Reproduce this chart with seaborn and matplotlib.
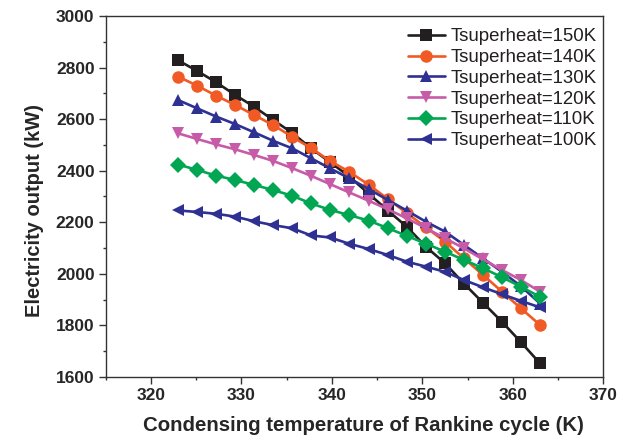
import matplotlib
matplotlib.use("Agg")
import matplotlib.pyplot as plt
import seaborn as sns
import pandas as pd
from matplotlib.ticker import MultipleLocator

sns.set_theme(style="ticks")
plt.rcParams['font.family'] = ['Liberation Sans', 'DejaVu Sans']

temps = [323.0, 325.1, 327.2, 329.3, 331.4, 333.5, 335.6, 337.7, 339.8, 341.9,
         344.1, 346.2, 348.3, 350.4, 352.5, 354.6, 356.7, 358.8, 360.9, 363.0]

t150 = [2828, 2787, 2743, 2694, 2648, 2597, 2547, 2487, 2433, 2378,
        2310, 2245, 2182, 2105, 2041, 1962, 1888, 1814, 1735, 1653]
t140 = [2765, 2730, 2691, 2655, 2616, 2577, 2532, 2487, 2438, 2396,
        2345, 2290, 2235, 2180, 2125, 2060, 1996, 1931, 1866, 1802]
t130 = [2674, 2642, 2610, 2581, 2549, 2516, 2487, 2448, 2409, 2371,
        2328, 2286, 2245, 2202, 2164, 2112, 2060, 2008, 1952, 1885]
t120 = [2545, 2523, 2502, 2483, 2461, 2438, 2410, 2380, 2348, 2316,
        2283, 2250, 2215, 2177, 2138, 2099, 2056, 2015, 1976, 1931]
t110 = [2424, 2403, 2381, 2364, 2345, 2325, 2303, 2273, 2248, 2228,
        2206, 2177, 2147, 2117, 2086, 2054, 2022, 1987, 1950, 1911]
t100 = [2246, 2240, 2233, 2222, 2204, 2189, 2177, 2149, 2141, 2117,
        2096, 2073, 2047, 2028, 2008, 1976, 1948, 1921, 1895, 1870]

labels = ["Tsuperheat=150K", "Tsuperheat=140K", "Tsuperheat=130K",
          "Tsuperheat=120K", "Tsuperheat=110K", "Tsuperheat=100K"]
series = [t150, t140, t130, t120, t110, t100]
colors = ["#231f20", "#f15a24", "#2e3192", "#c75ba7", "#00a651", "#2e3192"]
markers = ["s", "o", "^", "v", "D", "<"]
msizes = [8, 9, 9, 9, 8, 9]

fig = plt.figure(figsize=(6.27, 4.37), dpi=100)
ax = fig.add_axes([0.1686, 0.1373, 0.7936, 0.8261])

for lab, vals, c, m, ms in zip(labels, series, colors, markers, msizes):
    df = pd.DataFrame({"T": temps, "P": vals})
    sns.lineplot(data=df, x="T", y="P", ax=ax, color=c, marker=m,
                 markersize=ms, markeredgewidth=0, linewidth=1.9, label=lab)

ax.set_xlim(315, 370)
ax.set_ylim(1600, 3000)
ax.xaxis.set_major_locator(MultipleLocator(10))
ax.xaxis.set_minor_locator(MultipleLocator(5))
ax.yaxis.set_major_locator(MultipleLocator(200))
ax.yaxis.set_minor_locator(MultipleLocator(100))
ax.tick_params(which="major", length=5, width=1, color="#333333", direction="out",
               labelsize=12.5, pad=3)
ax.tick_params(which="minor", length=2.5, width=1, color="#333333", direction="out")
for lbl in ax.get_xticklabels() + ax.get_yticklabels():
    lbl.set_fontweight("bold")
for sp in ax.spines.values():
    sp.set_color("#333333")
    sp.set_linewidth(1.0)
    sp.set_visible(True)

ax.set_xlabel("Condensing temperature of Rankine cycle (K)", fontsize=14.7,
              fontweight="bold", labelpad=9)
ax.xaxis.label.set_x(0.517)
ax.set_ylabel("Electricity output (kW)", fontsize=14.5, fontweight="bold")
ax.yaxis.set_label_coords(-0.125, 0.46)

leg = ax.legend(loc="upper right", bbox_to_anchor=(0.998, 0.981), frameon=False,
                fontsize=13.4, handlelength=2.0, labelspacing=0.2,
                borderaxespad=0.0, borderpad=0.3, handletextpad=0.3)
for t in leg.get_texts():
    t.set_color("#231f20")

fig.savefig("out.png", dpi=100)
